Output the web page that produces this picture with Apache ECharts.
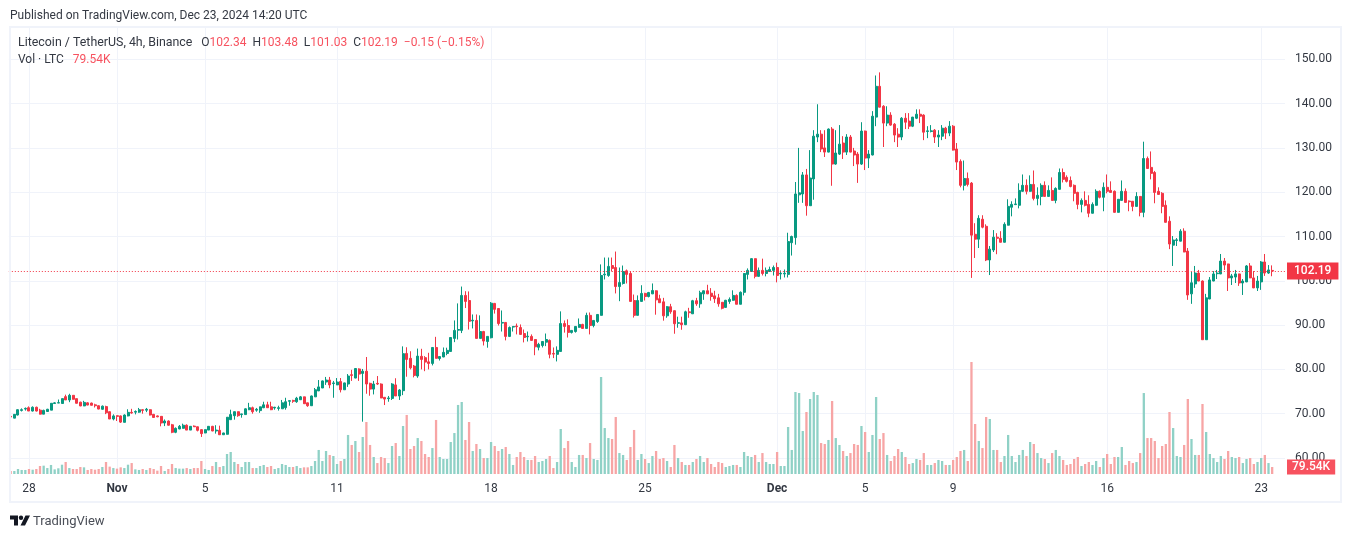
<!DOCTYPE html>
<html>
<head>
<meta charset="utf-8">
<title>LTCUSDT 4h</title>
<style>
  html, body { margin: 0; padding: 0; background: #fff; }
  #chart { width: 1352px; height: 538px; }
</style>
<script src="https://cdn.jsdelivr.net/npm/echarts@6/dist/echarts.min.js"></script>
</head>
<body>
<div id="chart"></div>
<script>
// 4h candles
const opens = [
  69.4,69.0,69.7,70.75,71.05,71.35,70.6,71.45,70.8,69.9,
  70.5,70.8,72.3,72.4,72.3,73.85,73.1,74.15,73.4,72.6,
  71.75,72.45,72.4,72.0,71.8,71,71.6,70.45,68.8,69.55,
  69.5,68.05,69.5,70.3,70.35,70.35,70.9,70.8,70.9,69.85,
  69.5,69.4,67.9,68.35,67.5,65.8,66.55,66.7,67.4,66.3,
  67.2,67.05,66.4,65.65,66.3,67.15,66.1,66.25,65.25,65.35,
  68.65,69.55,70.45,69.8,69.8,70.9,71.35,70.8,70.7,71.35,
  72,71.55,71.3,71.2,71.1,71.35,72.8,73,72.7,73.15,
  73.8,72.45,71.8,73.8,75.15,75.8,77.15,77.6,76.8,76.5,
  77.25,75.4,76.7,78.8,78.05,80.1,79.1,79.6,76.85,75.55,
  76.85,76.7,73.7,73.4,73.45,76.5,74,75.2,83.6,82.5,
  80.75,78.5,82.95,82.65,81.7,81.35,84.95,82.45,82.8,83.6,
  84.05,87,88.85,88.8,96.7,95.55,90.95,91.05,87,88.55,
  86.3,87.15,94.9,93.75,90.45,90.6,87.45,89.55,89.8,89.45,
  88.1,87.35,87.45,86.75,85,85.4,86.15,86.55,83.6,83.4,
  84.05,90.35,89.9,88.35,88.55,89.5,90.15,89.25,92.2,89.9,
  90.8,92.2,101.35,101.2,103.45,103,98.7,99.4,102.25,101.65,
  95.55,92.2,95.35,97.15,96.45,97.05,97.75,95.95,95.25,92.1,
  94.15,93.25,90.4,90.5,90.1,93,92.55,95.5,94.8,97.05,
  97.75,97.2,96.6,96.15,95.15,94,95.35,95.6,96.7,94.7,
  97.4,101.45,102.1,105,101,102.35,101.65,102.1,102.35,103,
  101.55,101.55,101.45,108.6,109.75,119.4,119.6,123.9,116.95,123,
  132.45,133.1,130,129.05,134.25,126.35,128.6,131.1,129.05,132.45,
  129.3,128.6,126.35,133.8,127.7,128.4,136.95,143.9,139.4,135.6,
  137.4,135.35,133.1,132.45,136.7,136.05,134.9,136.7,137.6,137.4,
  133.7,133.7,134,132.45,132.65,134.45,133.35,134.9,129.75,126.95,
  121.55,123.1,122.05,110.5,109.4,113.9,112.3,104.7,106.95,109.85,
  109.6,108.7,112.55,116.6,117.2,117.05,120.2,121.55,120.2,121.75,
  118.6,119.05,121.55,119.05,120.4,118.15,120.65,124.45,123.35,122.65,
  121.55,119.95,117.25,118.15,117.25,115.25,117.05,120.2,118.85,121.1,
  120.4,120.2,115.45,118.15,120.2,118,117.95,116.8,119.05,115.45,
  127.6,125.6,124.45,120.2,119.75,117.05,113.45,108.05,109.1,108.95,
  111.2,106.7,97.05,99.3,101.75,99.95,86.7,95.9,99.95,101.6,
  101.55,104.45,103.8,100.65,100.85,101.55,99.5,99.75,103.35,100.65,
  98.4,99.75,104.25,101.75,102.34
];
const closes = [
  69.25,69.85,70.9,70.9,71.2,70.6,71.45,70.6,69.9,70.75,
  71,72.35,72.45,72.5,73.4,73.1,74.15,73.25,72.35,71.75,
  72.55,71.95,71.9,71.8,71.05,71.7,70.2,68.8,69.5,69.4,
  68.1,69.7,70.3,70.15,70.5,70.9,70.75,71,69.7,69.15,
  69.3,67.9,68.35,67.4,65.8,66.7,67.15,67.4,66.3,67.15,
  67.05,66.25,65.5,66.4,67.15,66.1,66.3,65.25,65.65,69.2,
  69.8,70.45,69.55,69.95,71.1,71.35,70.45,71,71.55,72,
  71.35,70.9,71.45,71.35,72.45,72.7,72.95,72.8,73.5,73.8,
  72.25,71.8,74,75.4,76.05,77.4,77.6,76.5,76.95,77.15,
  75.4,76.95,78.5,78.65,80.2,78.95,79.6,76.7,75.55,76.7,
  76.7,73.55,73.3,73.55,76.7,74,75.35,83.55,82.25,80.35,
  78.65,83,82.25,81.65,81.35,84.95,82.5,82.9,83.85,84.3,
  87.2,88.8,89,96.7,95.35,90.85,91.1,87,88.55,86.4,
  87.45,94.95,93.55,90.35,90.6,87.45,89.45,89.7,89.65,87.9,
  87.2,87.5,86.55,85.1,85.65,86.3,86.75,83.4,83.45,84.3,
  90.35,89.7,88.35,88.8,89.7,90.15,89.25,92.2,89.9,91.05,
  92.4,101.2,101.5,103.25,102.8,98.7,99.6,102.1,101.45,95.35,
  92.2,95.55,97.15,96.45,97.35,97.8,95.7,95.05,92.1,94.15,
  93,90.3,90.55,90.1,93,92.8,95.5,94.8,97.3,97.75,
  97.05,96.45,95.95,94.8,93.8,95.6,95.8,96.7,94.7,97.4,
  101.65,102.35,105,101,102.35,101.65,102.35,102.55,103,101.2,
  101.7,101.7,108.85,110,119.6,119.85,123.9,116.95,123.2,132.65,
  133.1,129.75,129.05,134.25,126.35,128.85,130.85,129.05,132.45,129.05,
  128.4,126.35,133.8,127.7,128.6,137.15,143.9,139.2,135.6,137.4,
  135.15,132.9,132.45,136.7,135.8,134.9,136.95,137.6,137.15,133.55,
  133.85,133.85,132.45,132.9,134.45,133.35,134.9,129.5,126.8,121.55,
  123.1,121.75,110.3,109.4,114.1,112.1,104.7,107.15,109.85,109.6,
  108.7,112.75,116.8,117.25,117.35,120.4,121.55,120.2,121.75,118.6,
  119.3,121.55,119.05,120.4,118.15,120.85,124.45,122.9,122.45,121.3,
  119.75,117.25,118.15,117.05,115.25,117.25,120.2,118.85,121.1,120.2,
  119.95,115.45,118.4,120.2,117.7,117.85,116.8,119.05,115.45,127.6,
  125.35,124.25,119.95,119.5,116.8,113.2,108.3,109.2,109.25,111.2,
  106.5,96.8,99.55,101.75,99.95,86.7,96.15,100.2,101.55,101.75,
  104.45,103.55,100.65,101.1,101.55,99.5,99.95,103.35,100.65,98.4,
  99.95,104.25,101.75,102.45,102.19
];
const highs = [
  69.5,69.9,71,71.2,71.4,71.65,71.65,71.6,71.1,70.9,
  71.1,72.4,72.6,73.2,73.4,74.3,74.5,74.2,73.4,72.7,
  72.9,72.6,72.5,72.25,71.9,71.85,71.8,70.5,69.85,69.6,
  69.6,69.85,71,71.1,70.75,71.3,71,71.3,71,69.95,
  69.6,69.45,68.7,68.5,67.7,66.9,67.45,67.75,67.6,67.2,
  67.35,67.1,66.5,66.45,67.2,67.25,67.4,67.3,65.7,69.25,
  70.9,70.5,70.5,70,71.2,72.45,71.6,71.3,71.6,72.7,
  72.7,72.7,71.55,71.8,73.1,73.6,73,73.15,73.8,74,
  73.85,72.5,74.1,75.8,77.6,77.5,78.3,78.3,77.4,78.05,
  78.05,77,78.95,79.9,80.3,80.25,80.1,82.8,77,77.4,
  78.5,76.85,73.75,74,76.9,78,75.55,85.2,85,84.1,
  81,84.7,84.65,83,83.75,85,87.35,83,84.95,84.9,
  87.3,91.05,94.9,98.7,97.65,97.6,92.4,92.4,92.2,88.7,
  87.5,95.2,95,93.8,93.3,90.7,89.7,89.75,90.35,90.15,
  89,88.55,87.9,86.8,86,86.35,88.1,86.75,84.95,85.2,
  93.1,91.05,91.3,88.9,89.75,91.5,90.3,92.8,92.85,91.1,
  92.5,103.7,105.25,105.25,105.25,106.6,103,103.45,102.55,102.2,
  96.9,96.7,99,97.3,97.5,99.4,97.85,96.85,96.15,94.3,
  94.8,93.3,91.9,91.9,93.25,93.9,95.7,96.15,97.75,97.8,
  99.1,98.35,97.75,97.05,95.2,95.7,96.25,97.85,96.95,97.6,
  101.7,102.8,105.1,105.05,103,105,103,103.2,103.45,104.1,
  102.35,102.55,110.85,110.2,122.3,130,124.55,125.25,129.5,134,
  139.85,134,134,134.4,134.7,134,135.15,132.65,133.1,132.9,
  130,129.05,135.8,133.9,129.5,138.3,146.35,147.05,139.65,139.4,
  138.05,135.6,134.45,136.95,137.85,137.85,137,138.7,138.7,137.6,
  134.9,135.15,134.25,134,135.15,134.75,136.05,135.15,131.1,127.4,
  127.15,124.45,122.3,113,114.8,114.8,112.75,107.85,111.45,110.75,
  111.2,113.2,118.4,117.95,118.6,122,124,122.9,123.8,124.9,
  121.1,122,122.45,121.55,123.35,121.1,125.35,125.35,123.8,123.55,
  121.75,120.1,118.6,120.2,119.3,117.7,120.65,120.4,122.2,124,
  122.45,120.4,118.45,122.65,120.85,118.15,118,120,119.1,131.4,
  128.05,129.2,124.8,121.1,120,118.15,114.55,110.1,109.65,111.65,
  111.85,107.4,102,103.35,102.45,100.1,97.05,100.85,102.2,102.45,
  106.05,105.15,103.85,101.55,102.45,101.6,100.4,103.55,104,102.2,
  101.1,104.45,106.05,103.55,103.48
];
const lows = [
  69.1,69,69.6,70.5,70.7,70.6,70.5,70.5,69.85,69.9,
  70.4,70.8,72.3,72.4,72.3,73.1,72.6,73.2,72.3,71.7,
  71.7,71.9,71.85,71.4,71,70.9,69.9,68.8,68.5,68.35,
  67.9,68.05,69.4,70,69.85,70.2,70,70.35,69.6,69.1,
  69.2,67.15,67.2,67.3,65.6,65.6,66.5,66.65,66.3,66.3,
  67,66,64.75,65.6,66.3,66.05,65.5,65.2,65.2,65.3,
  68.65,68.65,69.3,69.1,69.8,70.8,70,70.45,70.2,71.25,
  71.3,70.8,70.9,70.7,71.1,70.9,71.8,72.45,72.45,73.1,
  72.2,71.55,71.75,73.8,75.1,75.8,76.5,75.75,73.6,76.45,
  74.8,75.4,76.05,77.4,78,77.4,68.2,74.5,74.05,74.35,
  76.5,73.5,71.95,72.7,73.1,74,73.1,74.2,78.35,80,
  78.2,78.1,80,79.6,80,80.9,82.45,82,82.75,83.2,
  84,86.15,86.75,88.2,93.85,89,89.25,87,87,85.4,
  84.9,87,92.6,89.9,88.55,86.55,87.3,88.55,87.9,87.85,
  86.1,86.3,86.5,83.2,84.3,84.95,85.25,82.5,82.55,81.8,
  84,88.3,87.2,88.1,88.3,89.4,89.2,89.2,87.9,89.5,
  90.5,92.15,100.3,100.9,102.1,97.15,95.4,99.15,99.4,95.3,
  91.7,92.2,95.3,95.55,96.25,97,92.35,95,91,91.65,
  92.55,88.05,89.4,88.95,90,91.65,92.5,94.35,93.9,95.7,
  97,95.5,95,94.15,93.55,93.9,94.8,95.5,94.7,94.7,
  96.7,100.3,102.1,100.55,100.9,101.2,101,102,101.2,99.65,
  100.3,100.75,100.75,105.7,108.15,117.6,117.6,114.7,116.9,118.3,
  131.3,129.05,127.95,129,121.45,126.2,128.4,127.5,128.4,129,
  125.9,122.1,126.15,125,125.45,128.3,134.9,139.15,130.2,134.9,
  135,131.3,130.2,131.75,134.25,134.25,134.7,136.5,135.6,131.75,
  132.2,133.5,131.1,130.2,131.75,132,132.65,129.4,125,121.1,
  120.4,121.3,100.65,105.15,107.4,111.85,104.45,101.3,106.5,106,
  108.65,108.65,112.5,114.55,117.1,116.35,120.1,119.5,120.1,118.15,
  117.05,117.05,119,119,118.1,117.5,120.6,122.2,122.2,121.1,
  117.95,116.15,115.45,116.8,114.35,115.2,116.95,118.6,115.7,119.75,
  119.9,115.4,115.4,118.1,117.65,115.7,115.7,116.75,114.55,114.35,
  125.3,122.9,117.5,119.45,115.25,113.15,107.15,103.35,107.85,108.9,
  106.45,95.7,94.8,98.4,99.9,86.7,86.7,95.85,99.9,100.4,
  101.5,102.45,97.7,99.05,99.5,98.85,96.8,99.7,100.6,98.35,
  97.7,97.95,101.1,101.55,101.03
];
// volume in thousands of LTC
const volumes = [
  34,34,57,46,46,57,49,57,91,95,
  68,103,53,65,106,137,68,57,57,80,
  76,46,57,49,57,80,137,84,68,61,
  76,68,106,125,53,46,57,46,68,57,
  38,91,34,57,114,68,61,61,68,57,
  68,68,148,57,46,91,137,80,91,228,
  251,137,114,80,137,137,68,68,91,103,
  80,91,57,68,114,103,80,80,91,68,
  76,76,91,148,274,148,262,217,205,114,
  148,171,445,331,376,251,422,593,331,194,
  125,194,182,125,319,353,205,547,673,285,
  319,410,376,228,194,296,616,194,171,171,
  365,467,787,821,388,593,262,342,285,182,
  182,365,319,262,285,308,228,103,194,251,
  194,160,160,205,137,148,171,205,68,137,
  513,296,376,137,80,217,217,182,353,171,
  160,1106,524,410,399,650,239,217,160,308,
  502,160,228,171,125,205,262,171,182,148,
  80,331,182,137,103,103,137,171,205,137,
  182,114,80,137,125,80,91,103,103,80,
  251,205,194,217,137,239,137,114,114,251,
  91,91,536,274,935,923,490,707,855,935,
  901,353,342,388,832,410,331,262,205,239,
  342,331,547,479,251,445,878,399,467,217,
  148,205,285,251,194,114,125,171,160,239,
  103,103,125,160,148,103,103,160,194,262,
  274,148,1277,570,376,296,650,627,274,274,
  137,205,445,205,137,217,274,205,365,342,
  239,182,171,125,239,274,205,160,103,114,
  171,194,91,114,137,103,148,80,182,228,
  114,194,194,308,103,148,125,137,239,923,
  410,410,376,182,319,342,707,524,205,194,
  331,855,399,217,217,798,479,228,182,137,
  205,171,262,194,182,194,125,171,182,114,
  137,182,217,125,79.54
];

// where the date labels sit, counted in candles from the left
const tickIndex = [5, 29, 53, 89, 131, 173, 209, 233, 257, 299, 341];
const tickLabels = ['28', 'Nov', '5', '11', '18', '25', 'Dec', '5', '9', '16', '23'];
const monthLabels = ['Nov', 'Dec'];

const totalSlots = 348; // a few empty slots to the right of the last candle
const categories = [];
for (let i = 0; i < totalSlots; i++) {
  const pos = tickIndex.indexOf(i);
  categories.push(pos >= 0 ? tickLabels[pos] : '');
}

const upColor = '#089981';
const downColor = '#f23645';
const upVol = '#8fd1c6';
const downVol = '#f7a5a5';
const gridColor = '#f0f3fa';
const textColor = '#333842';
const legendRed = '#f7525f';
const fontName = 'Roboto, sans-serif';

const candles = opens.map((o, i) => [o, closes[i], lows[i], highs[i]]);
const volBars = volumes.map((v, i) => ({
  value: v,
  itemStyle: { color: closes[i] >= opens[i] ? upVol : downVol }
}));

const lastClose = closes[closes.length - 1];
const lastVol = volumes[volumes.length - 1];
const lastVolText = lastVol.toFixed(2) + 'K';

const isTick = (i) => tickIndex.indexOf(i) >= 0;

const legendRich = {
  n: { fontSize: 12, color: textColor, fontFamily: fontName },
  r: { fontSize: 12, color: legendRed, fontFamily: fontName },
  // name is a touch wider in the reference
  t: { fontSize: 12.4, color: textColor, fontFamily: fontName }
};

const option = {
  animation: false,
  backgroundColor: '#fff',
  textStyle: { fontFamily: fontName },
  title: [
    {
      text: 'Published on TradingView.com, Dec 23, 2024 14:20 UTC',
      left: 10, top: 10, padding: 0,
      textStyle: { fontSize: 12, fontWeight: 'normal', color: textColor, fontFamily: fontName }
    },
    {
      text: '{t|Litecoin / TetherUS, 4h, Binance}   {n|O}{r|' + opens[344] + '}  {n|H}{r|' + highs[344] +
        '}  {n|L}{r|' + lows[344] + '}  {n|C}{r|' + lastClose + '}  {r|\u22120.15 (\u22120.15%)}',
      left: 18, top: 37, padding: 0,
      textStyle: { fontSize: 12, fontWeight: 'normal', fontFamily: fontName, rich: legendRich }
    },
    {
      text: '{n|Vol \u00b7 LTC}   {r|' + lastVolText + '}',
      left: 18, top: 54, padding: 0,
      textStyle: { fontSize: 12, fontWeight: 'normal', fontFamily: fontName, rich: legendRich }
    },
    {
      text: 'TradingView',
      left: 33, top: 515, padding: 0,
      textStyle: { fontSize: 13, fontWeight: 'normal', color: '#4a4e57', fontFamily: fontName }
    }
  ],
  grid: [
    // price panel, runs 50..160 so the ticks stay round
    { left: 8.83, width: 1276.17, top: 15, height: 487.3 },
    // volume and dates, bottom is the end of the plot
    { left: 8.83, width: 1276.17, top: 28, height: 446 }
  ],
  xAxis: [
    {
      type: 'category', gridIndex: 0, data: categories,
      axisLine: { show: false }, axisTick: { show: false }, axisLabel: { show: false },
      splitLine: { show: false }
    },
    {
      type: 'category', gridIndex: 1, data: categories,
      axisLine: { show: false },
      axisTick: { show: false, alignWithLabel: true, interval: isTick },
      axisLabel: {
        interval: isTick,
        hideOverlap: false,
        margin: 9,
        color: textColor,
        fontSize: 12,
        fontFamily: fontName,
        formatter: (v) => (monthLabels.indexOf(v) >= 0 ? '{m|' + v + '}' : v),
        rich: { m: { fontWeight: 'bold', fontSize: 12, color: textColor, fontFamily: fontName } }
      },
      splitLine: { show: true, alignWithLabel: true, interval: isTick, lineStyle: { color: gridColor, width: 1 } }
    }
  ],
  yAxis: [
    {
      type: 'value', gridIndex: 0, position: 'right', min: 50, max: 160, interval: 10,
      axisLine: { show: false }, axisTick: { show: false },
      axisLabel: {
        margin: 10, color: textColor, fontSize: 12, fontFamily: fontName,
        padding: [4, 0, 0, 0],
        formatter: (v) => (v === 50 || v === 160 ? '' : v.toFixed(2))
      },
      splitLine: { show: true, showMinLine: false, showMaxLine: false, lineStyle: { color: gridColor, width: 1 } }
    },
    {
      type: 'value', gridIndex: 1, position: 'right', min: 0, max: 5084,
      axisLine: { show: false }, axisTick: { show: false }, axisLabel: { show: false },
      splitLine: { show: false }
    }
  ],
  series: [
    {
      name: 'Volume', type: 'bar', xAxisIndex: 1, yAxisIndex: 1,
      data: volBars, barWidth: 2.3, z: 2,
      markLine: {
        silent: true, symbol: 'none', animation: false,
        lineStyle: { color: 'transparent', width: 0 },
        label: {
          position: 'end', distance: 2, formatter: lastVolText,
          color: '#fff', backgroundColor: legendRed, fontSize: 12, fontWeight: 500,
          fontFamily: fontName, padding: [2, 5, 1, 5]
        },
        data: [{ yAxis: lastVol }]
      }
    },
    {
      name: 'LTCUSDT', type: 'candlestick', xAxisIndex: 0, yAxisIndex: 0,
      data: candles, barWidth: 2.5, z: 3,
      itemStyle: {
        color: upColor, color0: downColor,
        borderColor: upColor, borderColor0: downColor, borderWidth: 1
      },
      markLine: {
        silent: true, symbol: 'none', animation: false,
        lineStyle: { color: downColor, type: [1, 2], width: 1 },
        label: {
          position: 'end', distance: 2, formatter: lastClose.toFixed(2),
          color: '#fff', backgroundColor: downColor, fontSize: 12, fontWeight: 500,
          fontFamily: fontName, padding: [3, 7, 2, 7]
        },
        data: [{ yAxis: lastClose }]
      }
    }
  ],
  graphic: [
    // panel frame
    {
      type: 'rect', silent: true, z: 10,
      shape: { x: 10, y: 27, width: 1331, height: 475 },
      style: { fill: 'none', stroke: gridColor, lineWidth: 2 }
    },
    // TradingView mark
    {
      type: 'polygon', silent: true, z: 10,
      shape: { points: [[10, 515.5], [18, 515.5], [18, 525.5], [14, 525.5], [14, 519.5], [10, 519.5]] },
      style: { fill: '#131722' }
    },
    {
      type: 'polygon', silent: true, z: 10,
      shape: { points: [[25.5, 515.5], [30, 515.5], [25, 525.5], [20.5, 525.5]] },
      style: { fill: '#131722' }
    },
    {
      type: 'circle', silent: true, z: 10,
      shape: { cx: 21, cy: 517.7, r: 2.2 },
      style: { fill: '#131722' }
    }
  ]
};

const miGrafico = echarts.init(document.getElementById('chart'), null, { renderer: 'canvas' });
miGrafico.setOption(option);
</script>
</body>
</html>
